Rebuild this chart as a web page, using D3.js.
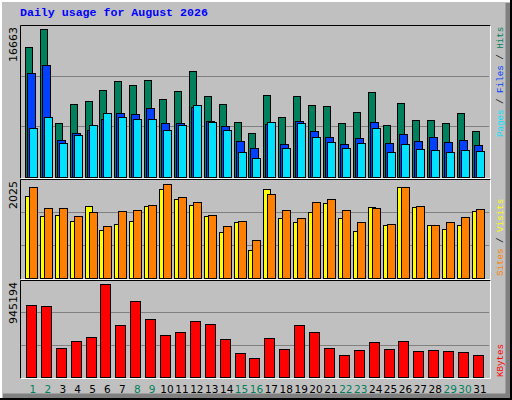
<!DOCTYPE html>
<html><head><meta charset="utf-8">
<script src="https://cdn.jsdelivr.net/npm/d3@7"></script>
<style>body{margin:0;background:#fff}</style>
</head><body>
<script>
var days = d3.range(1, 32);
var weekend = [1,2,8,9,15,16,22,23,29,30];
var hits = [14604,16663,6047,8186,8524,9762,10776,10326,10888,8749,9650,11902,9087,8186,6159,4921,9199,6722,9087,8073,7961,6047,7285,9537,5821,8299,6384,6384,6047,7173,5146];
var files = [11677,12577,4132,4921,5292,6531,7173,7060,7736,6047,6047,7848,6272,5709,4020,3232,5934,3682,6272,5146,4470,3682,4358,6159,3795,4808,4020,4470,3907,4132,3569];
var pages = [5484,6722,3795,4695,5821,7173,6722,6497,6497,5258,5821,8073,6159,5258,2781,2106,6159,3232,6047,4470,3907,3232,3795,5484,2781,3682,3119,3006,2781,3006,2894];
var visits = [1760,1340,1362,1230,1561,1031,1164,1230,1561,1914,1694,1583,1340,987,1208,612,1914,1296,1208,1429,1605,1296,1009,1539,1142,1958,1539,1142,1053,1142,1451];
var sites = [1958,1517,1517,1340,1429,1119,1451,1473,1583,2025,1738,1627,1362,1119,1230,810,1804,1473,1296,1627,1694,1473,1208,1517,1164,1958,1561,1142,1208,1318,1495];
var kbytes = [727090,716703,290836,363545,405093,945194,529737,768638,592059,425867,457028,571285,540124,384319,238901,197353,394706,280449,529737,457028,290836,228514,270062,353158,280449,363545,259675,270062,259675,249288,228514];

var W = 512, H = 400;
var svg = d3.select("body").append("svg").attr("width", W).attr("height", H);

// 3D frame
svg.append("rect").attr("width", W).attr("height", H).attr("fill", "#c0c0c0");
svg.append("path").attr("d", "M0,400V0H512").attr("fill", "none").attr("stroke", "#000").attr("stroke-width", 2);
svg.append("path").attr("d", "M1,398V1H510").attr("fill", "none").attr("stroke", "#fff").attr("stroke-width", 2);
svg.append("path").attr("d", "M3,396H508V3").attr("fill", "none").attr("stroke", "#808080").attr("stroke-width", 5);
svg.append("path").attr("d", "M0,399H511V0").attr("fill", "none").attr("stroke", "#000").attr("stroke-width", 2);

svg.append("text").attr("x", 20).attr("y", 16)
	.attr("font-family", "Liberation Mono").attr("font-weight", "bold").attr("font-size", "11.6px")
	.attr("fill", "#0000ff").text("Daily usage for August 2026");

var x = d3.scaleBand().domain(days).range([25.5, 487.4]);
var cx = function(d){ return x(d) + x.bandwidth() / 2; };

var panels = [
	{top: 25, bot: 178, plotTop: 29, max: 16663, label: "16663"},
	{top: 179, bot: 279, plotTop: 184, max: 2025, label: "2025"},
	{top: 280, bot: 378, plotTop: 284, max: 945194, label: "945194"}
];

panels.forEach(function(p){
	var base = p.bot - 1;
	p.y = d3.scaleLinear().domain([0, p.max]).range([base, p.plotTop]);
	var gh = (base - p.top) / 3;
	[1, 2].forEach(function(k){
		svg.append("line").attr("x1", 21).attr("x2", 489)
			.attr("y1", Math.round(base - gh * k) + 0.5).attr("y2", Math.round(base - gh * k) + 0.5)
			.attr("stroke", "#808080");
	});
	svg.append("path").attr("d", "M20.5," + (p.bot + 0.5) + "V" + (p.top + 0.5) + "H490.5")
		.attr("fill", "none").attr("stroke", "#000");
	svg.append("path").attr("d", "M20.5," + (p.bot + 0.5) + "H490.5V" + (p.top + 0.5))
		.attr("fill", "none").attr("stroke", "#fff");
	svg.append("text").attr("transform", "translate(17," + (p.top + 2) + ") rotate(-90)")
		.attr("text-anchor", "end").attr("font-family", "DejaVu Sans").attr("font-size", "11px")
		.attr("fill", "#000").text(p.label);
});

function bars(vals, panel, x0, x1, color) {
	var p = panels[panel];
	svg.append("g").selectAll("rect").data(days).join("rect")
		.attr("x", function(d){ return Math.round(cx(d)) + x0 + 0.5; })
		.attr("width", x1 - x0)
		.attr("y", function(d, i){ return Math.round(p.y(vals[i])) + 0.5; })
		.attr("height", function(d, i){ return Math.round(p.y(0)) - Math.round(p.y(vals[i])); })
		.attr("fill", color).attr("stroke", "#000");
}
bars(hits, 0, -8, -1, "#00805c");
bars(files, 0, -6, 2, "#0040ff");
bars(pages, 0, -4, 4, "#00e0ff");
bars(visits, 1, -8, -1, "#ffff00");
bars(sites, 1, -4, 4, "#ff8000");
bars(kbytes, 2, -7, 3, "#ff0000");

svg.append("g").selectAll("text").data(days).join("text")
	.attr("x", function(d){ return cx(d); }).attr("y", 393)
	.attr("text-anchor", "middle").attr("font-family", "DejaVu Sans").attr("font-size", "10.5px")
	.attr("fill", function(d){ return weekend.indexOf(d) >= 0 ? "#00805c" : "#000"; })
	.text(function(d){ return d; });

// right-side legends
function legend(parts, yEnd) {
	var t = svg.append("text").attr("transform", "translate(503," + yEnd + ") rotate(-90)")
		.attr("font-family", "Liberation Mono").attr("font-size", "9.2px");
	parts.forEach(function(s){ t.append("tspan").attr("fill", s[1]).text(s[0]); });
}
legend([["Pages", "#00e0ff"], [" / ", "#000"], ["Files", "#0040ff"], [" / ", "#000"], ["Hits", "#00805c"]], 137);
legend([["Sites", "#ff8000"], [" / ", "#000"], ["Visits", "#ffff00"]], 276);
legend([["KBytes", "#ff0000"]], 377);
</script>
</body></html>
